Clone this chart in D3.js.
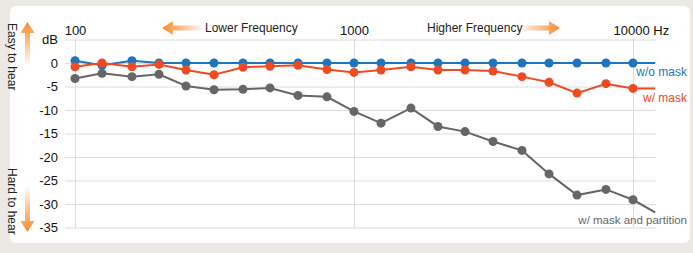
<!DOCTYPE html>
<html>
<head>
<meta charset="utf-8">
<style>
  body { margin: 0; background: #ece9e4; }
  svg { display: block; font-family: "Liberation Sans", Arial, sans-serif; }
  .grid line { stroke: #dcdcdc; }
  .grid .domain { display: none; }
  .grid text { fill: #111; font-size: 13px; }
</style>
</head>
<body>
<svg width="693" height="253"></svg>
<script src="https://d3js.org/d3.v7.min.js"></script>
<script>
// 1/3-octave centre frequencies (Hz)
var freqs = [100, 125, 160, 200, 250, 315, 400, 500, 630, 800, 1000,
             1250, 1600, 2000, 2500, 3150, 4000, 5000, 6300, 8000, 10000];
// where the lines run out past the last dot
var endFreq = 12000;

var noMask    = [0.5, -0.5, 0.5, 0, 0, 0, 0, 0, 0, 0, 0,
                 0, 0, 0, 0, 0, 0, 0, 0, 0, 0];
var noMaskEnd = 0;
var mask      = [-0.8, 0, -0.8, -0.3, -1.5, -2.5, -0.9, -0.7, -0.5, -1.4, -2,
                 -1.5, -0.8, -1.5, -1.5, -1.7, -2.9, -4.1, -6.4, -4.4, -5.4];
var maskEnd   = -5.4;
var partition = [-3.3, -2.2, -2.9, -2.4, -4.9, -5.7, -5.6, -5.3, -6.9, -7.2, -10.3,
                 -12.8, -9.6, -13.5, -14.6, -16.7, -18.6, -23.6, -28.1, -26.9, -29.1];
var partitionEnd = -31.8;

var yTicks = [5, 0, -5, -10, -15, -20, -25, -30, -35];
var xTicks = [100, 1000, 10000];

var svg = d3.select("svg");

// white card
svg.append("rect")
    .attr("x", 10).attr("y", 6)
    .attr("width", 680).attr("height", 237)
    .attr("rx", 6)
    .attr("fill", "#fff");

var x = d3.scaleLog().domain([100, 10000]).range([75, 633]);
var y = d3.scaleLinear().domain([-35, 5]).range([227.5, 39.5]);

var left = 65, right = 656;

// horizontal grid + y labels
svg.append("g")
    .attr("class", "grid")
    .attr("transform", "translate(" + left + ",0)")
    .call(d3.axisLeft(y)
        .tickValues(yTicks)
        .tickSize(-(right - left))
        .tickPadding(7)
        .tickFormat(function(d) { return d === 5 ? "dB" : String(d); }));

// vertical grid + frequency labels
var xg = svg.append("g")
    .attr("class", "grid")
    .attr("transform", "translate(0," + y(5) + ")")
    .call(d3.axisTop(x)
        .tickValues(xTicks)
        .tickSize(-(y(-35) - y(5)))
        .tickPadding(5)
        .tickFormat(function(d) { return d === 10000 ? "10000 Hz" : String(d); }));
xg.selectAll(".tick text")
    .filter(function(d) { return d === 10000; })
    .attr("text-anchor", "start")
    .attr("dx", -20);

// gradients for the orange arrows
var defs = svg.append("defs");
function grad(id, x1, y1, x2, y2) {
  var g = defs.append("linearGradient").attr("id", id)
      .attr("x1", x1).attr("y1", y1).attr("x2", x2).attr("y2", y2);
  g.append("stop").attr("offset", "0%").attr("stop-color", "#f58a2c").attr("stop-opacity", 1);
  g.append("stop").attr("offset", "100%").attr("stop-color", "#f58a2c").attr("stop-opacity", 0);
}
grad("gL", "0%", "0%", "100%", "0%");
grad("gR", "100%", "0%", "0%", "0%");
grad("gU", "0%", "0%", "0%", "100%");
grad("gD", "0%", "100%", "0%", "0%");

function hArrow(tip, tail, cy, id) {
  var s = tip < tail ? 1 : -1;
  var hx = tip + s * 11;
  return svg.append("path")
      .attr("d", "M" + tip + "," + cy + "L" + hx + "," + (cy - 7) + "L" + hx + "," + (cy - 2.5) +
                 "L" + tail + "," + (cy - 2.5) + "L" + tail + "," + (cy + 2.5) +
                 "L" + hx + "," + (cy + 2.5) + "L" + hx + "," + (cy + 7) + "Z")
      .attr("fill", "url(#" + id + ")");
}
function vArrow(tip, tail, cx, id) {
  var s = tip < tail ? 1 : -1;
  var hy = tip + s * 11;
  return svg.append("path")
      .attr("d", "M" + cx + "," + tip + "L" + (cx - 7) + "," + hy + "L" + (cx - 2.5) + "," + hy +
                 "L" + (cx - 2.5) + "," + tail + "L" + (cx + 2.5) + "," + tail +
                 "L" + (cx + 2.5) + "," + hy + "L" + (cx + 7) + "," + hy + "Z")
      .attr("fill", "url(#" + id + ")");
}

hArrow(162, 205, 28, "gL");
hArrow(560, 518, 28, "gR");
vArrow(22, 66, 27.5, "gU");
vArrow(232, 186, 27.5, "gD");

svg.append("text").attr("x", 205).attr("y", 32)
    .attr("font-size", 12).attr("fill", "#222").text("Lower Frequency");
svg.append("text").attr("x", 427).attr("y", 32)
    .attr("font-size", 12).attr("fill", "#222").text("Higher Frequency");

svg.append("text")
    .attr("transform", "translate(8,23) rotate(90)")
    .attr("font-size", 12).attr("fill", "#222").text("Easy to hear");
svg.append("text")
    .attr("transform", "translate(8,168) rotate(90)")
    .attr("font-size", 12).attr("fill", "#222").text("Hard to hear");

// series
var series = [
  { name: "w/o mask", vals: noMask, end: noMaskEnd, color: "#1f74c0", labelY: 76, size: 12 },
  { name: "w/ mask", vals: mask, end: maskEnd, color: "#ef4a22", labelY: 102, size: 12 },
  { name: "w/ mask and partition", vals: partition, end: partitionEnd, color: "#666668", labelY: 224, size: 11.5 }
];

var line = d3.line()
    .x(function(d) { return x(d[0]); })
    .y(function(d) { return y(d[1]); });

series.forEach(function(s) {
  var pts = freqs.map(function(f, i) { return [f, s.vals[i]]; });
  var g = svg.append("g");
  g.append("path")
      .datum(pts.concat([[endFreq, s.end]]))
      .attr("fill", "none")
      .attr("stroke", s.color)
      .attr("stroke-width", 2)
      .attr("d", line);
  g.selectAll("circle")
    .data(pts)
    .enter().append("circle")
      .attr("cx", function(d) { return x(d[0]); })
      .attr("cy", function(d) { return y(d[1]); })
      .attr("r", 4.5)
      .attr("fill", s.color);
  svg.append("text")
      .attr("x", 687)
      .attr("y", s.labelY)
      .attr("text-anchor", "end")
      .attr("font-size", s.size)
      .attr("fill", s.color)
      .text(s.name);
});
</script>
</body>
</html>
